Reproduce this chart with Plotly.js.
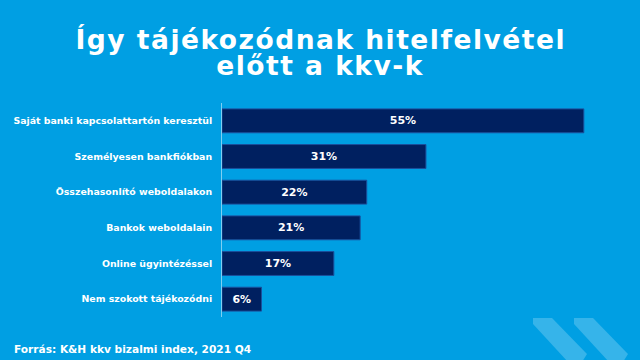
<!DOCTYPE html>
<html><head><meta charset="utf-8">
<script src="https://cdn.plot.ly/plotly-3.0.1.min.js"></script>
<style>html,body{margin:0;padding:0;background:#009FE3;}#c{width:640px;height:360px;}
.annotation[data-index="0"] text, .annotation[data-index="1"] text{letter-spacing:1.5px;}
</style>
</head><body><div id="c"></div>
<script>
const categories = ["Saját banki kapcsolattartón keresztül","Személyesen bankfiókban","Összehasonlító weboldalakon","Bankok weboldalain","Online ügyintézéssel","Nem szokott tájékozódni"];
const values = [55, 31, 22, 21, 17, 6];
const titleLines = ["Így tájékozódnak hitelfelvétel", "előtt a kkv-k"];
const source = "Forrás: K&H kkv bizalmi index, 2021 Q4";

const W=640,H=360,L=222,R=20,T=103,B=43;
const pw=W-L-R, ph=H-T-B;
const px=x=>(x-L)/pw, py=y=>(H-B-y)/ph;
function poly(pts){return 'M'+pts.map(p=>px(p[0])+','+py(p[1])).join(' L')+' Z';}

const chev1=[[533,318],[552,318],[587,354],[582,362],[568,362],[533,324]];
const chev2=chev1.map(p=>[p[0]+41,p[1]]);

const data=[{
  type:'bar', orientation:'h', y:categories, x:values,
  marker:{color:'#002060', line:{color:'#1A4F9C', width:1}},
  text:values.map(v=>v+'%'), textposition:'inside', insidetextanchor:'middle',
  textfont:{family:'DejaVu Sans', size:11, color:'#ffffff', weight:'bold'},
  hoverinfo:'none', cliponaxis:false
}];
const layout={
  width:W,height:H,margin:{l:L,r:R,t:T,b:B},
  paper_bgcolor:'#009FE3', plot_bgcolor:'#009FE3',
  showlegend:false, bargap:0.33,
  xaxis:{range:[0,60.5], visible:false, fixedrange:true},
  yaxis:{autorange:'reversed', showgrid:false, zeroline:false, ticks:'', showline:true, linecolor:'#7FCFF2', linewidth:1,
    ticklabelstandoff:7, tickfont:{family:'DejaVu Sans', size:9.4, color:'#ffffff', weight:'bold'}},
  shapes:[
    {type:'path', xref:'paper', yref:'paper', path:poly(chev1), fillcolor:'#36B4EA', line:{width:0}, layer:'below'},
    {type:'path', xref:'paper', yref:'paper', path:poly(chev2), fillcolor:'#36B4EA', line:{width:0}, layer:'below'}
  ],
  annotations:[
    {text:titleLines[0], xref:'paper', yref:'paper', x:px(320), y:py(39), xanchor:'center', yanchor:'middle', showarrow:false,
      font:{family:'DejaVu Sans', size:26.5, color:'#ffffff', weight:'bold'}},
    {text:titleLines[1], xref:'paper', yref:'paper', x:px(320), y:py(66), xanchor:'center', yanchor:'middle', showarrow:false,
      font:{family:'DejaVu Sans', size:26.5, color:'#ffffff', weight:'bold'}},
    {text:source, xref:'paper', yref:'paper', x:px(12), y:py(349), xanchor:'left', yanchor:'middle', showarrow:false,
      font:{family:'DejaVu Sans', size:10.6, color:'#ffffff', weight:'bold'}}
  ]
};
Plotly.newPlot('c',data,layout,{staticPlot:true,displayModeBar:false});
</script></body></html>
